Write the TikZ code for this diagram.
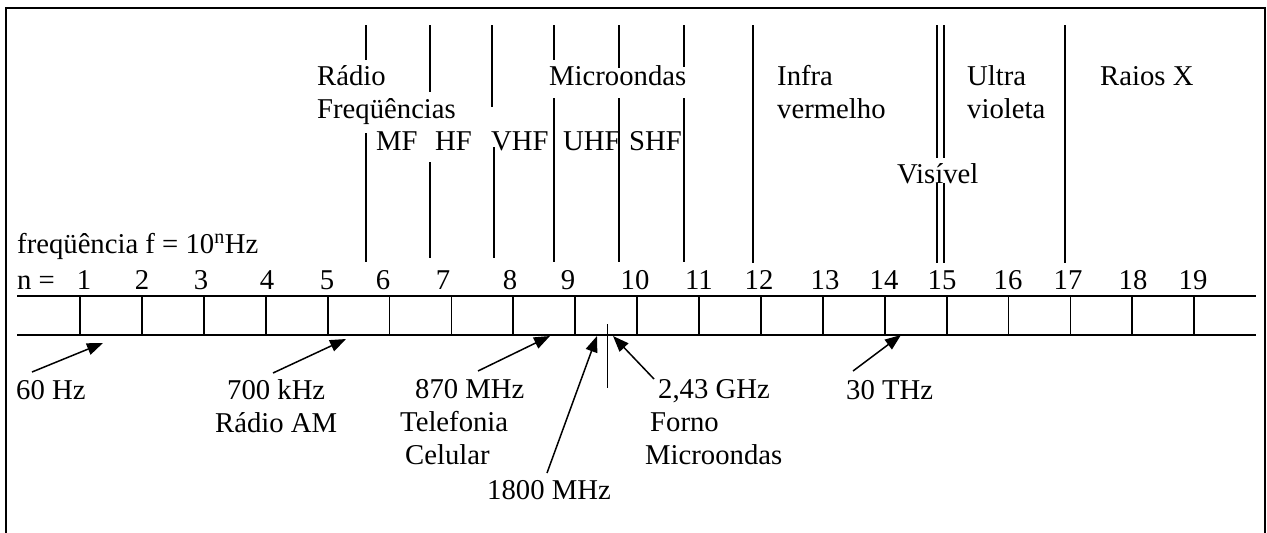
\documentclass[tikz,border=0pt]{standalone}
\usepackage{fontspec}
\setmainfont{Liberation Serif}
\usetikzlibrary{arrows.meta}
\begin{document}
\begin{tikzpicture}[x=1pt,y=-1pt,
  lbl/.style={anchor=base west,inner sep=0pt,font=\fontsize{28.7}{34}\selectfont},
  num/.style={anchor=base,inner sep=0pt,font=\fontsize{28.7}{34}\selectfont},
  frame/.style={line width=2.2pt},
  bar/.style={line width=1.8pt},
  divider/.style={line width=1.6pt},
  pointer/.style={line width=1.5pt,-{Triangle[length=16pt,width=12pt]}}]
\useasboundingbox (0,0) rectangle (1267,533);
% frame
\draw[frame] (6,533) -- (6,8) -- (1265,8) -- (1265,533);
% scale bar
\draw[bar] (17,295.7) -- (1256,295.7);
\draw[bar] (17,334.7) -- (1256,334.7);
\foreach \i in {0,...,18}{
  \draw[bar] ({80+61.9*\i},295.7) -- ({80+61.9*\i},334.7);
}
% numbers
\node[lbl] (neq) at (17,289) {n =};
\foreach \x/\t in {84/1,142/2,201/3,267/4,327/5,383/6,443/7,510/8,568/9,635/10,699/11,759/12,825/13,884/14,942/15,1008/16,1068/17,1133/18,1193/19}{
  \node[num] (n\t) at (\x,289) {\t};
}
\node[lbl] (freq) at (17,253) {freqüência f = 10\textsuperscript{n}Hz};
% dividers
\draw[divider] (366,25) -- (366,60) (366,133) -- (366,262);
\draw[divider] (430,25) -- (430,92) (430,162) -- (430,258);
\draw[divider] (492,25) -- (492,107) (494,147) -- (494,258);
\draw[divider] (554,25) -- (554,60) (554,98) -- (554,262);
\draw[divider] (619,25) -- (619,68) (619,98) -- (619,262);
\draw[divider] (684,25) -- (684,67) (684,98) -- (684,262);
\draw[divider] (753,25) -- (753,263);
\draw[divider] (937,25) -- (937,158) (937,183) -- (937,263);
\draw[divider] (944,25) -- (944,158) (944,183) -- (944,263);
\draw[divider] (1065,25) -- (1065,263);
% band labels
\node[lbl] (radio) at (317,85) {Rádio};
\node[lbl] (freqs) at (317,118) {Freqüências};
\node[lbl] (mf) at (376,150) {MF};
\node[lbl] (hf) at (435,150) {HF};
\node[lbl] (vhf) at (491,150) {VHF};
\node[lbl] (uhf) at (563,150) {UHF};
\node[lbl] (shf) at (629,150) {SHF};
\node[lbl] (micro) at (549,85) {Microondas};
\node[lbl] (infra) at (777,85) {Infra};
\node[lbl] (verm) at (777,118) {vermelho};
\node[lbl] (ultra) at (967,85) {Ultra};
\node[lbl] (viol) at (967,118) {violeta};
\node[lbl] (raiosx) at (1100,85) {Raios X};
\node[lbl] (visivel) at (897,183) {Visível};
% bottom labels
\node[lbl] (l60) at (16,399) {60 Hz};
\node[lbl] (l700) at (227,399) {700 kHz};
\node[lbl] (lam) at (215,432) {Rádio AM};
\node[lbl] (l870) at (415,398) {870 MHz};
\node[lbl] (ltel) at (400,431) {Telefonia};
\node[lbl] (lcel) at (405,464) {Celular};
\node[lbl] (l1800) at (487,499) {1800 MHz};
\node[lbl] (l243) at (658,398) {2,43 GHz};
\node[lbl] (lforno) at (650,431) {Forno};
\node[lbl] (lmicro) at (645,464) {Microondas};
\node[lbl] (l30) at (846,399) {30 THz};
% arrows
\coordinate (a60s) at (32,372);   \coordinate (a60e) at (103,343);
\coordinate (a700s) at (273,373); \coordinate (a700e) at (346,339);
\coordinate (a870s) at (478,371); \coordinate (a870e) at (550,336);
\coordinate (a18s) at (547,473);  \coordinate (a18e) at (597,336);
\coordinate (a24s) at (654,379);  \coordinate (a24e) at (613,336);
\coordinate (a30s) at (853,371);  \coordinate (a30e) at (901,335);
\draw[pointer] (a60s) -- (a60e);
\draw[pointer] (a700s) -- (a700e);
\draw[pointer] (a870s) -- (a870e);
\draw[pointer] (a18s) -- (a18e);
\draw[pointer] (a24s) -- (a24e);
\draw[pointer] (a30s) -- (a30e);
\coordinate (mk1) at (607,324); \coordinate (mk2) at (607,388);
\draw[line width=1pt] (mk1) -- (mk2);
\end{tikzpicture}
\end{document}
